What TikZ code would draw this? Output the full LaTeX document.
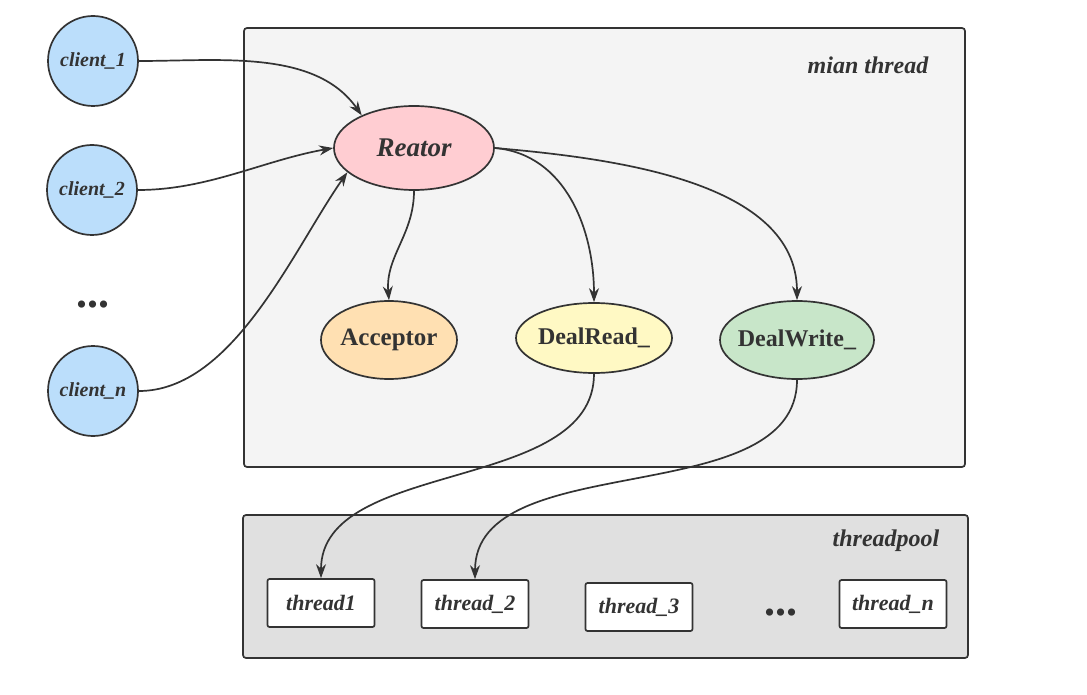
\documentclass[tikz,border=0pt]{standalone}
\usepackage{fontspec}
\setmainfont{Liberation Serif}
\usetikzlibrary{shapes.geometric,arrows.meta}
\definecolor{ink}{HTML}{333333}
\definecolor{cblue}{HTML}{BBDEFB}
\definecolor{cpink}{HTML}{FFCDD2}
\definecolor{corange}{HTML}{FFE0B2}
\definecolor{cyellow}{HTML}{FFF9C4}
\definecolor{cgreen}{HTML}{C8E6C9}
\definecolor{mainbg}{HTML}{F4F4F4}
\definecolor{poolbg}{HTML}{E0E0E0}
\newcommand{\zw}[1]{\makebox[0pt]{#1}}
\tikzset{
  every node/.style={text=ink, font=\bfseries\itshape},
  client/.style={circle, draw=ink, line width=1.7pt, fill=cblue, minimum size=90pt, inner sep=0pt, font=\bfseries\itshape\fontsize{20}{22}\selectfont},
  oval/.style={ellipse, draw=ink, line width=1.7pt, inner sep=0pt},
  thr/.style={rectangle, rounded corners=2pt, draw=ink, line width=1.7pt, fill=white, minimum width=107pt, minimum height=48pt, inner sep=0pt, font=\bfseries\itshape\fontsize{22}{24}\selectfont},
  group/.style={rounded corners=3pt, draw=ink, line width=1.7pt},
  conn/.style={draw=ink, line width=1.7pt, -{Stealth[length=14pt,width=10pt]}},
  dots/.style={font=\bfseries\fontsize{44}{44}\selectfont}
}
\begin{document}
\begin{tikzpicture}[x=1pt,y=-1pt]
\useasboundingbox (0,0) rectangle (1087,695);
% groups
\draw[group, fill=mainbg] (244,28) rectangle (965,467);
\draw[group, fill=poolbg] (243,515) rectangle (968,658);
\node[font=\bfseries\itshape\fontsize{24}{26}\selectfont] (mainlbl) at (868,65) {mian thread};
\node[font=\bfseries\itshape\fontsize{24}{26}\selectfont] (poollbl) at (886,541) {threadpool};
% clients
\node[client] (c1) at (93,61) {client\_1};
\node[client] (c2) at (92,190) {client\_2};
\node[client] (cn) at (93,391) {client\_n};
\node[dots] (cdots) at (93,305) {...};
% reactor parts
\node[oval, fill=cpink, minimum width=160pt, minimum height=84pt, font=\bfseries\itshape\fontsize{27}{29}\selectfont] (reator) at (414,148) {\zw{Reator}};
\node[oval, fill=corange, minimum width=136pt, minimum height=78pt, font=\bfseries\fontsize{25}{27}\selectfont] (acc) at (389,340) {\zw{Acceptor}};
\node[oval, fill=cyellow, minimum width=156pt, minimum height=70pt, font=\bfseries\fontsize{24}{26}\selectfont] (dr) at (594,338) {\zw{DealRead\_}};
\node[oval, fill=cgreen, minimum width=154pt, minimum height=78pt, font=\bfseries\fontsize{24}{26}\selectfont] (dw) at (797,340) {\zw{DealWrite\_}};
% threads
\node[thr] (t1) at (321,603) {thread1};
\node[thr] (t2) at (475,604) {thread\_2};
\node[thr] (t3) at (639,607) {thread\_3};
\node[dots] (tdots) at (781,613) {...};
\node[thr] (tn) at (893,604) {thread\_n};
% connectors
\draw[conn] (c1.east) to[out=0, in=125, looseness=0.9] (reator.148);
\draw[conn] (c2.east) to[out=0, in=190, looseness=0.9] (reator.west);
\draw[conn] (cn.east) to[out=0, in=235, looseness=0.8] (reator.200);
\draw[conn] (reator.south) to[out=-90, in=95] (acc.north);
\draw[conn] (reator.east) to[out=-5, in=90, looseness=1] (dr.north);
\draw[conn] (reator.east) to[out=-5, in=90, looseness=0.9] (dw.north);
\draw[conn] (dr.south) to[out=-90, in=90, looseness=0.9] (t1.north);
\draw[conn] (dw.south) to[out=-90, in=90, looseness=0.9] (t2.north);
\end{tikzpicture}
\end{document}
